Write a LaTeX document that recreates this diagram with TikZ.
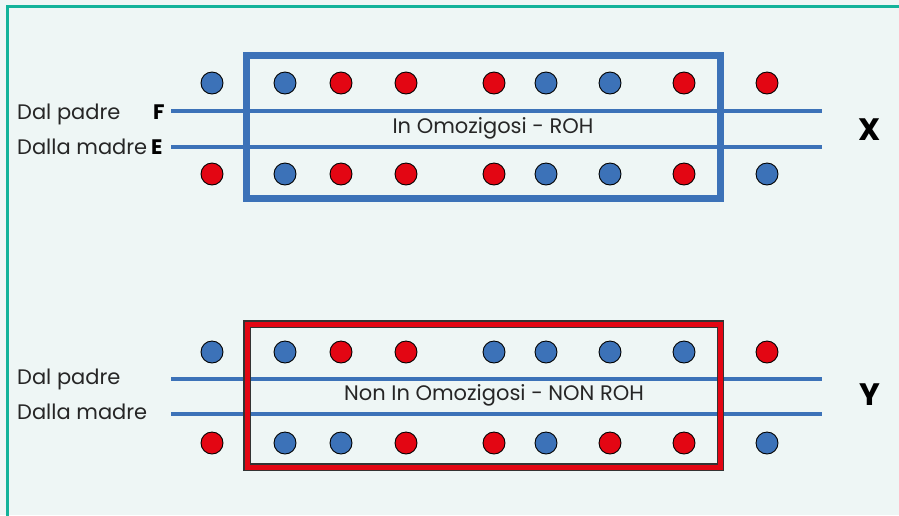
\documentclass[tikz,border=0pt]{standalone}
\usepackage{fontspec}
\setmainfont{Poppins}
\definecolor{bgc}{HTML}{EEF6F5}
\definecolor{teal1}{HTML}{12B39A}
\definecolor{blu}{HTML}{3C72B8}
\definecolor{rd}{HTML}{E30613}
\begin{document}
\begin{tikzpicture}[x=1pt,y=-1pt,
  dotb/.style={circle,draw=black,line width=0.9pt,fill=blu,minimum size=22pt,inner sep=0pt},
  dotr/.style={circle,draw=black,line width=0.9pt,fill=rd,minimum size=22pt,inner sep=0pt},
  chrom/.style={draw=blu,line width=4pt},
  lbl/.style={anchor=base west,inner sep=0pt,font=\fontsize{21}{22}\selectfont,text=black!85},
  fe/.style={anchor=base west,inner sep=0pt,font=\bfseries\fontsize{21}{22}\selectfont},
  big/.style={font=\bfseries\fontsize{31}{33}\selectfont,inner sep=0pt},
  mid/.style={font=\fontsize{21}{22}\selectfont,inner sep=0pt,text=black!85}]
\useasboundingbox (0,0) rectangle (899,515);
\fill[bgc] (0,0) rectangle (899,515);
\draw[teal1,line width=2.6pt] (7.3,520) -- (7.3,6.3) -- (905,6.3);
% X block
\coordinate (f1) at (171,111); \coordinate (f2) at (822,111);
\coordinate (e1) at (171,147); \coordinate (e2) at (822,147);
\draw[chrom] (f1) -- (f2);
\draw[chrom] (e1) -- (e2);
\draw[blu,line width=7pt] (246.5,55.5) rectangle (720.5,198.5);
\node[lbl] (dp1) at (17,119) {Dal padre};
\node[lbl] (dm1) at (17,154) {Dalla madre};
\node[fe] (F) at (153,119) {F};
\node[fe] (E) at (151,154) {E};
\node[big] (X) at (870,130) {X};
\node[mid] (t1) at (493,128) {In Omozigosi - ROH};
% Y block
\coordinate (g1) at (171,379); \coordinate (g2) at (822,379);
\coordinate (h1) at (171,414); \coordinate (h2) at (822,414);
\draw[chrom] (g1) -- (g2);
\draw[chrom] (h1) -- (h2);
\draw[black!80,line width=7.5pt] (247,324) rectangle (720.5,467);
\draw[rd,line width=5pt] (247,324) rectangle (720.5,467);
\node[lbl] (dp2) at (17,384) {Dal padre};
\node[lbl] (dm2) at (17,419) {Dalla madre};
\node[big] (Y) at (870,395) {Y};
\node[mid] (t2) at (494,395) {Non In Omozigosi - NON ROH};
% dots
\foreach \x/\c [count=\i] in {212/b,285/b,341/r,406/r,494/r,546/b,610/b,684/r,767/r}
  \node[dot\c] (xa\i) at (\x,83) {};
\foreach \x/\c [count=\i] in {212/r,285/b,341/r,406/r,494/r,546/b,610/b,684/r,767/b}
  \node[dot\c] (xb\i) at (\x,174) {};
\foreach \x/\c [count=\i] in {212/b,285/b,341/r,406/r,494/b,546/b,610/b,684/b,767/r}
  \node[dot\c] (ya\i) at (\x,352) {};
\foreach \x/\c [count=\i] in {212/r,285/b,341/b,406/r,494/r,546/b,610/r,684/r,767/b}
  \node[dot\c] (yb\i) at (\x,443) {};
\end{tikzpicture}
\end{document}
